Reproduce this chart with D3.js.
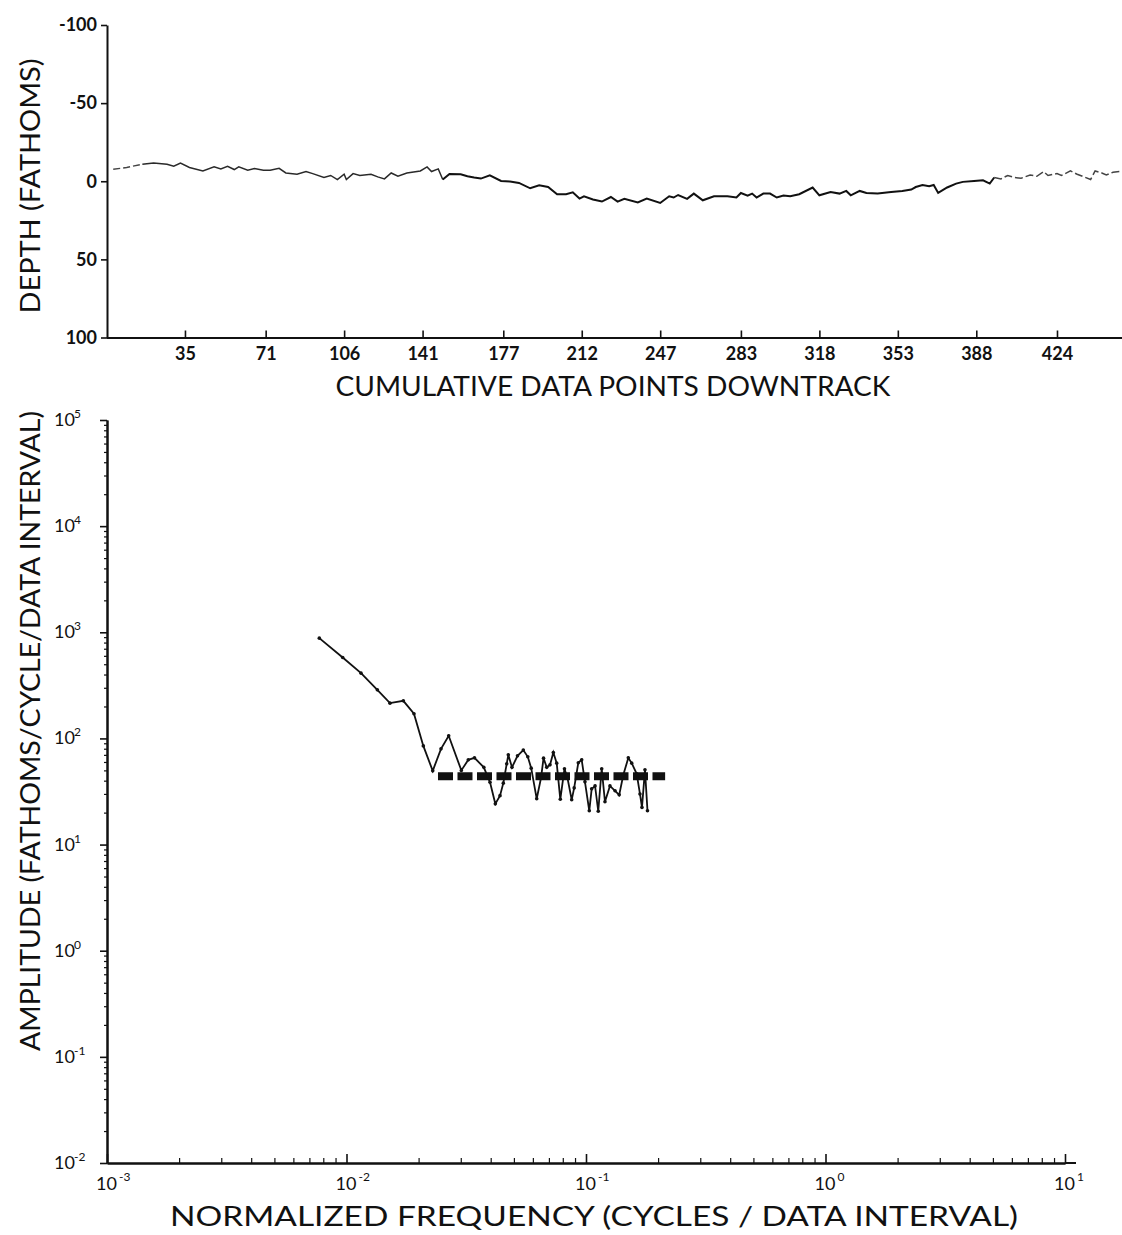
<html>
<head>
<script src="https://d3js.org/d3.v7.min.js"></script>
<style>
  body { margin: 0; background: #fff; }
  text { font-family: Lato, "DejaVu Sans", sans-serif; fill: #111; }
</style>
</head>
<body>
<script>
// ---- top panel: depth profile ----
const depthIndex = [3, 9, 16, 21, 27, 30, 33, 37, 43, 48, 51, 54, 57, 59, 63, 66, 70, 73, 77, 80,
  85, 89, 92, 97, 100, 103, 106, 107, 110, 113, 118, 121, 124, 127, 130, 134, 140, 143, 145, 148,
  150, 153, 158, 161, 164, 167, 171, 176, 180, 184, 189, 193, 197, 201, 205, 208, 211, 213, 217, 221,
  225, 228, 231, 237, 241, 247, 251, 253, 255, 259, 262, 266, 271, 277, 281, 283, 286, 288, 290, 293,
  296, 299, 302, 305, 309, 315, 318, 323, 327, 330, 332, 336, 339, 344, 350, 355, 359, 361, 364, 367,
  369, 371, 375, 379, 382, 387, 391, 394, 396, 399, 402, 405, 408, 412, 415, 418, 420, 424, 426, 430,
  433, 436, 439, 441, 444, 446, 449, 452];
const depthValues = [-7.7, -8.8, -10.9, -11.7, -10.9, -9.6, -11.7, -8.8, -6.6, -9.2, -7.9, -9.6, -7.5, -9.2, -7.1, -8.1, -7.1, -7.1, -8.3, -5.3,
  -4.5, -6.2, -4.9, -2.4, -3.7, -1.1, -4.5, -1.1, -4.9, -3.7, -4.5, -2.8, -1.5, -5.3, -3.2, -5.3, -6.6, -9.2, -6.2, -7.9,
  -1.1, -4.7, -4.5, -3.2, -2.4, -1.7, -3.8, -0.2, 0.2, 1.1, 4.5, 2.6, 3.7, 8.3, 8.3, 7.1, 11.1, 9.6, 11.7, 13.0,
  10.1, 13.0, 11.3, 13.5, 11.1, 13.9, 9.6, 10.4, 8.8, 11.3, 7.9, 12.2, 9.6, 9.6, 10.4, 7.5, 9.2, 7.9, 10.4, 7.9,
  7.9, 10.4, 9.2, 9.6, 8.3, 4.0, 9.0, 6.9, 7.9, 6.2, 9.0, 6.2, 7.5, 7.9, 6.9, 6.2, 5.3, 3.7, 2.4, 3.2,
  2.4, 7.5, 4.0, 1.5, 0.4, -0.2, -0.6, 1.5, -2.4, -1.5, -3.7, -2.4, -1.9, -4.0, -3.2, -6.2, -3.7, -4.9, -3.7, -6.6,
  -4.5, -2.8, -1.1, -6.6, -5.3, -4.0, -5.8, -6.2];
const downtrackTicks = [35, 71, 106, 141, 177, 212, 247, 283, 318, 353, 388, 424];
const depthTicks = [-100, -50, 0, 50, 100];

// ---- bottom panel: amplitude spectrum ----
const freqValues = [0.00770, 0.00964, 0.01150, 0.01345, 0.01519, 0.01727, 0.01913, 0.02093, 0.02291, 0.02481,
  0.02671, 0.03016, 0.03225, 0.03423, 0.03744, 0.03974, 0.04182, 0.04375, 0.04516, 0.04666,
  0.04738, 0.04909, 0.05176, 0.05473, 0.05715, 0.05905, 0.06226, 0.06490, 0.06648, 0.06855,
  0.07076, 0.07304, 0.07546, 0.07811, 0.08130, 0.08370, 0.08715, 0.08926, 0.09286, 0.09594,
  0.0990, 0.1032, 0.1056, 0.1091, 0.1125, 0.1163, 0.1200, 0.1259, 0.1322, 0.1376,
  0.1432, 0.1502, 0.1552, 0.1628, 0.1680, 0.1713, 0.1763, 0.1806];
const ampValues = [881, 579, 412, 287, 215, 226, 171, 85, 49.5, 79.8,
  106, 50, 62.8, 65.6, 53.4, 38.6, 24.2, 28.9, 37.9, 57.6,
  70, 53.4, 68.5, 77.6, 67.1, 52.5, 27, 42.5, 65.2, 53.4,
  56.4, 73.6, 58.5, 26.7, 51.7, 42.3, 26.4, 34.2, 58.9, 62.8,
  39, 20.8, 33.5, 35.7, 20.6, 51.7, 25.3, 35.7, 32.1, 29.4,
  45.4, 65.6, 58.5, 46.4, 30.0, 22.4, 50.6, 20.8];
const noiseLevel = 44;
const noiseFreqs = [0.0241, 0.214];
const freqDecades = [-3, -2, -1, 0, 1];
const ampDecades = [-2, -1, 0, 1, 2, 3, 4, 5];

const W = 1122, H = 1235;
const svg = d3.select("body").append("svg").attr("width", W).attr("height", H);
svg.append("rect").attr("width", W).attr("height", H).attr("fill", "#fff");

function styleAxis(g) {
  g.select(".domain").attr("stroke", "#111").attr("stroke-width", 2);
  g.selectAll(".tick line").attr("stroke", "#111").attr("stroke-width", 1.6);
  g.selectAll(".tick text").attr("font-family", "Lato, 'DejaVu Sans', sans-serif")
    .attr("font-weight", 700).attr("fill", "#111");
}

// ===== TOP PANEL =====
const xTop = d3.scaleLinear().domain([0, 453]).range([106.5, 1122]);
const yTop = d3.scaleLinear().domain([-100, 100]).range([25, 337.5]);

svg.append("g")
  .attr("transform", "translate(107,0)")
  .call(d3.axisLeft(yTop).tickValues(depthTicks).tickSize(6).tickSizeOuter(0).tickPadding(4)
    .tickFormat(d => String(d)))
  .call(styleAxis)
  .call(g => g.selectAll(".tick text").attr("font-size", 18));

svg.append("g")
  .attr("transform", "translate(0,337.5)")
  .call(d3.axisBottom(xTop).tickValues(downtrackTicks).tickSize(-7).tickSizeOuter(0).tickPadding(10)
    .tickFormat(d => String(d)))
  .call(styleAxis)
  .call(g => g.selectAll(".tick text").attr("font-size", 18));

const depthData = depthIndex.map((d, i) => ({ x: d, y: depthValues[i] }));
const depthLine = d3.line().x(d => xTop(d.x)).y(d => yTop(d.y)).curve(d3.curveLinear);

// faint, broken ends as in the scan
svg.append("path").datum(depthData.filter(d => d.x <= 16))
  .attr("d", depthLine).attr("fill", "none").attr("stroke", "#444")
  .attr("stroke-width", 1.4).attr("stroke-dasharray", "7,3");
svg.append("path").datum(depthData.filter(d => d.x >= 16 && d.x <= 150))
  .attr("d", depthLine).attr("fill", "none").attr("stroke", "#2a2a2a").attr("stroke-width", 1.5);
svg.append("path").datum(depthData.filter(d => d.x >= 150 && d.x <= 396))
  .attr("d", depthLine).attr("fill", "none").attr("stroke", "#111").attr("stroke-width", 2);
svg.append("path").datum(depthData.filter(d => d.x >= 396))
  .attr("d", depthLine).attr("fill", "none").attr("stroke", "#444")
  .attr("stroke-width", 1.5).attr("stroke-dasharray", "8,3");

svg.append("text").text("CUMULATIVE DATA POINTS DOWNTRACK")
  .attr("x", 613).attr("y", 396).attr("text-anchor", "middle")
  .attr("font-size", 27).attr("textLength", 555).attr("lengthAdjust", "spacingAndGlyphs");

svg.append("text").text("DEPTH (FATHOMS)")
  .attr("transform", "translate(40,186) rotate(-90)")
  .attr("text-anchor", "middle").attr("font-size", 27)
  .attr("textLength", 255).attr("lengthAdjust", "spacingAndGlyphs");

// ===== BOTTOM PANEL =====
const xBot = d3.scaleLog().domain([1e-3, 10]).range([107, 1065]);
const yBot = d3.scaleLog().domain([1e-2, 1e5]).range([1163, 420]);

const xMajor = freqDecades.map(e => Math.pow(10, e));
const yMajor = ampDecades.map(e => Math.pow(10, e));
const isMajor = v => Math.abs(Math.log10(v) - Math.round(Math.log10(v))) < 1e-9;

// y axis: major + minor ticks
svg.append("g")
  .attr("transform", "translate(107,0)")
  .call(d3.axisLeft(yBot).tickValues(yBot.ticks().filter(v => !isMajor(v))).tickSize(3)
    .tickSizeOuter(0).tickFormat(""))
  .call(styleAxis)
  .call(g => g.selectAll(".tick line").attr("stroke-width", 1.2));
svg.append("g")
  .attr("transform", "translate(107,0)")
  .call(d3.axisLeft(yBot).tickValues(yMajor).tickSize(7).tickSizeOuter(0).tickFormat(""))
  .call(styleAxis);

// x axis: major + minor ticks (pointing up)
svg.append("g")
  .attr("transform", "translate(0,1163)")
  .call(d3.axisBottom(xBot).tickValues(xBot.ticks().filter(v => !isMajor(v))).tickSize(-5)
    .tickSizeOuter(0).tickFormat(""))
  .call(styleAxis)
  .call(g => g.selectAll(".tick line").attr("stroke-width", 1.2));
svg.append("g")
  .attr("transform", "translate(0,1163)")
  .call(d3.axisBottom(xBot).tickValues(xMajor).tickSize(-9).tickSizeOuter(0).tickFormat(""))
  .call(styleAxis);
svg.append("line").attr("x1", 1065).attr("x2", 1076).attr("y1", 1163).attr("y2", 1163)
  .attr("stroke", "#111").attr("stroke-width", 2);

// power-of-ten labels
freqDecades.forEach(e => {
  const x = xBot(Math.pow(10, e));
  svg.append("text").text("10").attr("x", x + 10).attr("y", 1190)
    .attr("text-anchor", "end").attr("font-size", 18);
  svg.append("text").text(String(e)).attr("x", x + 12).attr("y", 1181)
    .attr("font-size", 12);
});
ampDecades.forEach(e => {
  const y = yBot(Math.pow(10, e));
  svg.append("text").text("10").attr("x", 54).attr("y", y + 6)
    .attr("font-size", 18);
  svg.append("text").text(String(e)).attr("x", 74).attr("y", y - 2)
    .attr("font-size", 12);
});

// noise level (thick dashed)
svg.append("line")
  .attr("x1", xBot(noiseFreqs[0])).attr("x2", xBot(noiseFreqs[1]))
  .attr("y1", yBot(noiseLevel)).attr("y2", yBot(noiseLevel))
  .attr("stroke", "#111").attr("stroke-width", 8).attr("stroke-dasharray", "15,4.5");

// spectrum
const specData = freqValues.map((f, i) => ({ f: f, a: ampValues[i] }));
svg.append("path").datum(specData)
  .attr("d", d3.line().x(d => xBot(d.f)).y(d => yBot(d.a)))
  .attr("fill", "none").attr("stroke", "#111").attr("stroke-width", 1.8);
svg.append("g").selectAll("circle").data(specData).enter().append("circle")
  .attr("cx", d => xBot(d.f)).attr("cy", d => yBot(d.a)).attr("r", 1.8).attr("fill", "#111");

svg.append("text").text("NORMALIZED FREQUENCY (CYCLES / DATA INTERVAL)")
  .attr("x", 594).attr("y", 1226).attr("text-anchor", "middle")
  .attr("font-size", 27).attr("textLength", 848).attr("lengthAdjust", "spacingAndGlyphs");

svg.append("text").text("AMPLITUDE (FATHOMS/CYCLE/DATA INTERVAL)")
  .attr("transform", "translate(40,731) rotate(-90)")
  .attr("text-anchor", "middle").attr("font-size", 27)
  .attr("textLength", 640).attr("lengthAdjust", "spacingAndGlyphs");
</script>
</body>
</html>
